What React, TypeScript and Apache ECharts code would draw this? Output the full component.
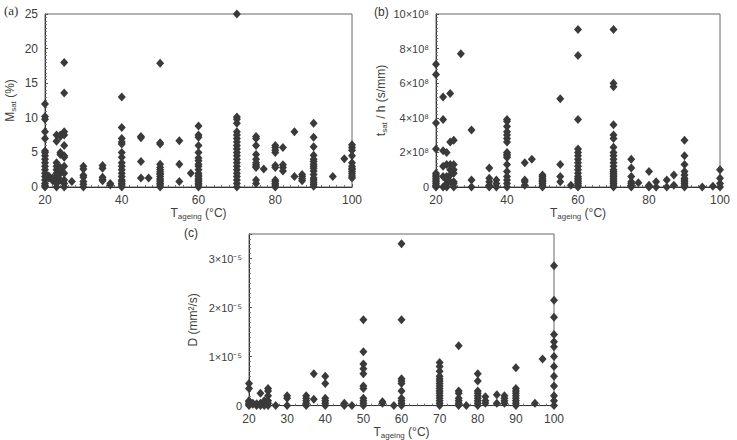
import React, { useEffect, useRef } from "react";
import * as echarts from "echarts";

// Panel (a): M_sat (%) grouped by ageing temperature (°C)
const msatByTemp: [number, number[]][] = [
  [20, [12, 10.2, 9.8, 8, 7, 5.2, 5, 4.5, 4, 3.5, 3, 2.5, 2, 1.5, 1, 0.5, 0.2, 0]],
  [21, [1.6, 1.3]],
  [22, [1.3, 1.1, 0.9]],
  [23, [7.5, 6.6, 3.5, 3, 2.5, 2, 1.5, 1, 0.5, 0]],
  [24, [7.3, 7.5, 5, 4.7, 2.8, 2.5, 2, 1]],
  [25, [18, 13.6, 8, 7.5, 6, 4.5, 4.3, 3, 2, 1, 0.5, 0]],
  [27, [0.8]],
  [30, [3, 2.6, 1.7, 1.4, 0.8, 0.4, 0]],
  [35, [3.1, 2.7, 1.4, 1.1, 0.9]],
  [37, [0.5, 0.3]],
  [40, [13, 8.6, 7, 6.5, 6.2, 5, 4.3, 3.5, 3, 2.5, 2, 1.5, 1, 0.8, 0.5, 0.3, 0]],
  [45, [7.3, 7.1, 3.7, 1.3]],
  [47, [1.3]],
  [50, [17.9, 6.4, 6.2, 3.3, 2.8, 2.5, 2.2, 2, 1.8, 1.5, 1.2, 1, 0.8, 0.5, 0.3, 0]],
  [55, [6.7, 3.3, 0.8]],
  [58, [2.0]],
  [60, [8.8, 7.5, 7.2, 6, 5, 4.2, 3.8, 3.3, 3, 2.5, 2, 1.7, 1.5, 1.2, 1, 0.8, 0.5, 0.3, 0]],
  [70, [25, 10.1, 9.8, 9.2, 8, 7.5, 7, 6.5, 6, 5.5, 5, 4.5, 4, 3.5, 3, 2.5, 2, 1.5, 1, 0.5, 0]],
  [75, [7.3, 7, 6, 4.7, 4, 3.5, 3.2, 3, 2.8, 1, 0.5]],
  [77, [2.6]],
  [80, [6, 5.7, 5.3, 5, 3.1, 2.8, 1, 0.8, 0.5, 0.3, 0]],
  [82, [5.7, 3.2, 2.8, 2.3]],
  [85, [8, 1.5]],
  [87, [1.8, 1.5, 1.2, 0.9]],
  [90, [9.2, 7.2, 5.8, 4.6, 4, 3.7, 3.3, 3, 2.7, 2.3, 1.8, 1.3, 1, 0.7, 0.4, 0.1]],
  [95, [1.5]],
  [98, [4.1]],
  [100, [6.1, 5.7, 5.3, 4.5, 3.5, 3, 2.7, 2.5, 2.2, 1.9, 1.6, 1.3]],
];

// Panel (b): t_sat / h in units of 1e8 s/mm
const tsatByTemp: [number, number[]][] = [
  [20, [7.1, 6.5, 3.7, 2.2, 0.8, 0.7, 0.6, 0.5, 0.4, 0.3, 0.2, 0.1, 0.05, 0]],
  [22, [5.2, 3.9, 2.1, 1.2, 0.6, 0]],
  [23, [2.0, 1.3, 0.6, 0.4, 0.2, 0]],
  [24, [5.4, 2.6, 1.3, 1.0, 0.7, 0.3]],
  [25, [2.7, 1.3, 1.0, 0.8, 0.3, 0.2, 0]],
  [27, [7.7]],
  [30, [3.3, 0.4, 0]],
  [35, [1.1, 0.5, 0.3, 0.1, 0]],
  [37, [0.4, 0.2, 0]],
  [40, [3.9, 3.8, 3.5, 3.2, 3.0, 2.8, 2.6, 2.0, 1.9, 1.8, 1.7, 1.3, 0.9, 0.6, 0.4, 0.2, 0]],
  [45, [1.4, 0.4, 0.3, 0.1]],
  [47, [1.6]],
  [50, [0.7, 0.6, 0.5, 0.4, 0.35, 0.3, 0.2, 0.1, 0]],
  [55, [5.1, 1.3, 0.6, 0.3]],
  [58, [0.1]],
  [60, [9.1, 7.6, 3.9, 2.2, 2.0, 1.8, 1.6, 1.4, 1.2, 1.0, 0.8, 0.6, 0.5, 0.4, 0.3, 0.2, 0.1, 0]],
  [70, [9.1, 6.0, 5.8, 3.6, 3.0, 2.8, 2.3, 2.0, 1.8, 1.6, 1.4, 1.2, 1.0, 0.9, 0.8, 0.7, 0.6, 0.5, 0.4, 0.3, 0.2, 0.1, 0]],
  [75, [1.6, 1.1, 0.6, 0.3, 0.2, 0.1, 0]],
  [77, [0.25]],
  [80, [0.9, 0.1, 0.05, 0]],
  [82, [0.3, 0]],
  [85, [0.4, 0]],
  [87, [0.7, 0.1]],
  [90, [2.7, 1.8, 1.3, 0.9, 0.7, 0.5, 0.4, 0.3, 0.2, 0.1, 0]],
  [95, [0]],
  [98, [0.05]],
  [100, [1.0, 0.5, 0.2, 0]],
];

// Panel (c): D in units of 1e-5 mm²/s
const diffByTemp: [number, number[]][] = [
  [20, [0.45, 0.35, 0.1, 0.08, 0.05, 0.03, 0]],
  [21, [0.05, 0.03]],
  [22, [0.04, 0]],
  [23, [0.25, 0.05, 0]],
  [24, [0.1, 0]],
  [25, [0.35, 0.3, 0.2, 0.1, 0.05, 0]],
  [27, [0]],
  [30, [0.2, 0.15, 0]],
  [35, [0.2, 0.15, 0.1, 0.05, 0]],
  [37, [0.65, 0.13]],
  [40, [0.6, 0.45, 0.15, 0.1, 0.05, 0]],
  [45, [0.05, 0]],
  [47, [0]],
  [50, [1.75, 1.1, 0.85, 0.75, 0.65, 0.4, 0.35, 0.15, 0.1, 0.05, 0]],
  [55, [0.08, 0.05]],
  [58, [0]],
  [60, [3.3, 1.75, 0.55, 0.5, 0.45, 0.3, 0.15, 0.1, 0.05, 0]],
  [70, [0.88, 0.8, 0.7, 0.6, 0.55, 0.5, 0.45, 0.4, 0.35, 0.3, 0.25, 0.2, 0.15, 0.1, 0.05, 0]],
  [75, [1.22, 0.3, 0.25, 0.15, 0.1, 0.05, 0]],
  [77, [0]],
  [80, [0.65, 0.5, 0.3, 0.25, 0.2, 0.15, 0.1, 0.05, 0]],
  [82, [0.18, 0.1, 0.05]],
  [85, [0.22, 0.05]],
  [87, [0.2, 0.15, 0.1, 0.05]],
  [90, [0.77, 0.35, 0.3, 0.25, 0.2, 0.15, 0.1, 0.05, 0]],
  [95, [0.05]],
  [97, [0.95]],
  [100, [2.85, 2.15, 1.8, 1.45, 1.3, 1.2, 1.0, 0.8, 0.6, 0.4, 0.2, 0.1, 0]],
];

const SCALE_B = 1e8;
const SCALE_C = 1e-5;

const flatten = (groups: [number, number[]][], scale: number) =>
  groups.flatMap(([t, vals]) => vals.map((v) => [t, v * scale]));

const SUP: Record<string, string> = {
  "0": "⁰", "1": "¹", "2": "²", "3": "³", "4": "⁴", "5": "⁵",
  "6": "⁶", "7": "⁷", "8": "⁸", "9": "⁹", "-": "⁻",
};
const sup = (s: string) => s.split("").map((c) => SUP[c] || c).join("");

const INK = "#3a3a3a";
const LABEL = "#404040";
const FONT = "Liberation Sans, Arial, sans-serif";

const rich = {
  m: { fontSize: 12, color: LABEL, fontFamily: FONT },
  s: { fontSize: 8, color: LABEL, fontFamily: FONT, padding: [7, 0, 0, 0] },
};

function xAxis(gridIndex: number, interval: number, minorSplit: number) {
  return {
    type: "value",
    gridIndex,
    min: 20,
    max: 100,
    interval,
    name: "{m|T}{s|ageing}{m| (°C)}",
    nameLocation: "middle",
    nameGap: 17,
    nameTextStyle: { rich },
    axisLine: { show: true, lineStyle: { color: "#333", width: 1 } },
    axisTick: { show: true, inside: true, length: 3, lineStyle: { color: "#555" } },
    minorTick: { show: true, splitNumber: minorSplit, length: 2, lineStyle: { color: "#777" } },
    axisLabel: { color: LABEL, fontSize: 12, fontFamily: FONT, margin: 7 },
    splitLine: { show: false },
  };
}

function yAxis(gridIndex: number, max: number, interval: number, minorSplit: number, name: string, nameGap: number, fmt: (v: number) => string, fontSize: number, showMax: boolean) {
  return {
    type: "value",
    gridIndex,
    min: 0,
    max,
    interval,
    name,
    nameLocation: "middle",
    nameGap,
    nameRotate: 90,
    nameTextStyle: { rich },
    axisLine: { show: true, lineStyle: { color: "#333", width: 1 } },
    axisTick: { show: true, inside: true, length: 3, lineStyle: { color: "#555" } },
    minorTick: { show: true, splitNumber: minorSplit, length: 2, lineStyle: { color: "#777" } },
    axisLabel: { color: LABEL, fontSize, fontFamily: FONT, margin: 7, formatter: fmt, showMaxLabel: showMax },
    splitLine: { show: false },
  };
}

function series(idx: number, data: number[][]) {
  return {
    type: "scatter",
    xAxisIndex: idx,
    yAxisIndex: idx,
    data,
    symbol: "diamond",
    symbolSize: [8, 9],
    itemStyle: { color: INK, opacity: 1 },
    clip: false,
  };
}

export default function App() {
  const ref = useRef<HTMLDivElement>(null);
  useEffect(() => {
    if (!ref.current) return;
    const chart = echarts.init(ref.current, undefined, { renderer: "svg" });
    const grid = (left: number, top: number, width: number, height: number) => ({
      left, top, width, height, show: true, borderColor: "#666", borderWidth: 1, backgroundColor: "transparent",
    });
    chart.setOption({
      animation: false,
      backgroundColor: "#ffffff",
      grid: [grid(45, 14, 307, 173), grid(436, 14, 284, 173), grid(249, 234, 305, 174)],
      xAxis: [xAxis(0, 20, 10), xAxis(1, 20, 10), xAxis(2, 10, 5)],
      yAxis: [
        yAxis(0, 25, 5, 10, "{m|M}{s|sat}{m| (%)}", 28, (v: number) => String(v), 12, true),
        yAxis(1, 10 * SCALE_B, 2 * SCALE_B, 10, "{m|t}{s|sat}{m| / h (s/mm)}", 48,
          (v: number) => (v === 0 ? "0" : `${Math.round(v / SCALE_B)}×10${sup("8")}`), 11, true),
        yAxis(2, 3.5 * SCALE_C, 1 * SCALE_C, 10, "{m|D (mm²/s)}", 50,
          (v: number) => (v === 0 ? "0" : `${Math.round(v / SCALE_C)}×10${sup("-5")}`), 11, false),
      ],
      series: [
        series(0, flatten(msatByTemp, 1)),
        series(1, flatten(tsatByTemp, SCALE_B)),
        series(2, flatten(diffByTemp, SCALE_C)),
      ],
      graphic: [
        { type: "text", left: 4, top: 4, style: { text: "(a)", fontSize: 13, fill: "#333", fontFamily: "Liberation Serif, serif" } },
        { type: "text", left: 374, top: 6, style: { text: "(b)", fontSize: 12, fill: "#333", fontFamily: FONT } },
        { type: "text", left: 184, top: 227, style: { text: "(c)", fontSize: 12, fill: "#333", fontFamily: FONT } },
      ],
    });
    return () => chart.dispose();
  }, []);
  return <div ref={ref} style={{ position: "fixed", left: 0, top: 0, width: 737, height: 440 }} />;
}
